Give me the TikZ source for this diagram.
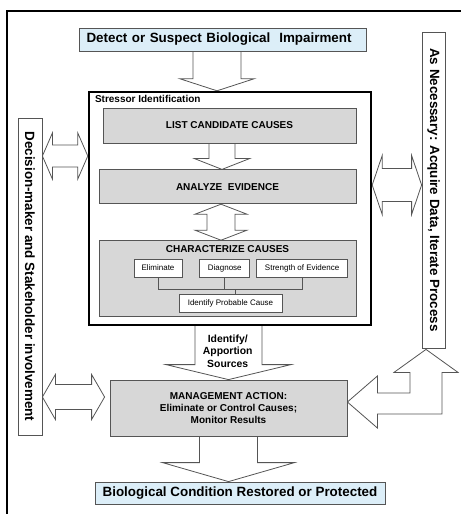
\documentclass[tikz,border=0pt]{standalone}
\usepackage{fontspec}
\setmainfont{Liberation Sans}
\usepackage{xcolor}
\usepackage{tikz}
\usetikzlibrary{positioning,calc,backgrounds}
\definecolor{skyfill}{HTML}{DCEEF8}
\definecolor{boxgray}{HTML}{D7D7D7}
\definecolor{edgegray}{HTML}{555555}

% hollow block arrows, built from two node anchors
\newcommand{\downblock}[5]{% start, tip, shaft half, head half, head length
  \draw[blockarr] let \p1=(#1), \p2=(#2) in
    (\x1-#3pt,\y1) -- (\x1-#3pt,\y2+#5pt) -- (\x1-#4pt,\y2+#5pt) -- (\x1,\y2)
    -- (\x1+#4pt,\y2+#5pt) -- (\x1+#3pt,\y2+#5pt) -- (\x1+#3pt,\y1);}
\newcommand{\updownblock}[5]{% top tip, bottom tip, shaft half, head half, head length
  \draw[blockarr] let \p1=(#1), \p2=(#2) in
    (\x1,\y1) -- (\x1+#4pt,\y1-#5pt) -- (\x1+#3pt,\y1-#5pt) -- (\x1+#3pt,\y2+#5pt)
    -- (\x1+#4pt,\y2+#5pt) -- (\x1,\y2) -- (\x1-#4pt,\y2+#5pt) -- (\x1-#3pt,\y2+#5pt)
    -- (\x1-#3pt,\y1-#5pt) -- (\x1-#4pt,\y1-#5pt) -- cycle;}
\newcommand{\sideblock}[5]{% left tip, right tip, shaft half, head half, head length
  \draw[blockarr] let \p1=(#1), \p2=(#2) in
    (\x1,\y2) -- (\x1+#5pt,\y2+#4pt) -- (\x1+#5pt,\y2+#3pt) -- (\x2-#5pt,\y2+#3pt)
    -- (\x2-#5pt,\y2+#4pt) -- (\x2,\y2) -- (\x2-#5pt,\y2-#4pt) -- (\x2-#5pt,\y2-#3pt)
    -- (\x1+#5pt,\y2-#3pt) -- (\x1+#5pt,\y2-#4pt) -- cycle;}

\begin{document}
\begin{tikzpicture}[
    x=1pt, y=-1pt,
    bluebox/.style={rectangle, draw=edgegray, fill=skyfill, line width=0.8pt, inner sep=0pt,
                    font=\bfseries\fontsize{13.4}{15}\selectfont},
    graybox/.style={rectangle, draw=edgegray, fill=boxgray, line width=0.8pt, inner sep=0pt,
                    align=center, font=\bfseries\fontsize{10}{12}\selectfont},
    pickbox/.style={rectangle, draw=edgegray, fill=white, line width=0.8pt, inner sep=1pt,
                    minimum height=18pt, font=\fontsize{8}{9}\selectfont},
    sidebar/.style={rectangle, draw=edgegray, fill=white, line width=0.8pt, inner sep=0pt,
                    rotate=-90, font=\bfseries\fontsize{13.4}{15}\selectfont},
    sibox/.style={rectangle, draw=black, line width=2.4pt},
    blockarr/.style={draw=edgegray, fill=white, line width=0.8pt, line join=miter},
    link/.style={draw=edgegray, line width=0.8pt}
]
\useasboundingbox (0,0) rectangle (461,514);
\draw[line width=2.4pt] (7,514) -- (7,11) -- (461,11);

\node[bluebox, text width=273pt, inner xsep=7pt, align=left, minimum height=23pt] (detect) at (223,39.5)
  {Detect or Suspect Biological\ \ Impairment};

% stressor identification
\node[sibox, minimum width=282pt, minimum height=233pt] (si) at (230,208.5) {};
\node[anchor=north west, inner sep=0pt, font=\bfseries\fontsize{10}{12}\selectfont] (sititle)
  at ($(si.north west)+(7,4.5)$) {Stressor Identification};
\node[graybox, minimum width=253pt, minimum height=35pt] (list) at (229.5,125.5) {LIST CANDIDATE CAUSES};
\node[graybox, minimum width=257pt, minimum height=34pt, below=26pt of list.south east, anchor=north east]
  (analyze) {ANALYZE\ \ EVIDENCE};
\node[graybox, minimum width=257pt, minimum height=76pt, below=36pt of analyze] (charac) {};
\node[anchor=north, inner sep=0pt, font=\bfseries\fontsize{10}{12}\selectfont] (chartitle)
  at ($(charac.north)+(0,5)$) {CHARACTERIZE CAUSES};
\node[pickbox, minimum width=48pt] (elim) at (158,268) {Eliminate};
\node[pickbox, minimum width=50pt, right=17pt of elim] (diag) {Diagnose};
\node[pickbox, minimum width=91pt, right=6pt of diag] (strength) {Strength of Evidence};
\node[pickbox, minimum width=103pt] (probable) at (230.5,303) {Identify Probable Cause};
\coordinate (bus) at ($(probable.north)+(5,-4)$);
\draw[link] (elim.south) |- (bus) -| (strength.south);
\draw[link] (diag.south) -- (diag.south |- bus);
\draw[link] (bus) -- (bus |- probable.north);

\node[graybox, minimum width=237pt, minimum height=56pt] (mgmt) at (228.5,408)
  {MANAGEMENT ACTION:\\Eliminate or Control Causes;\\Monitor Results};
\node[bluebox, minimum width=290pt, minimum height=22pt] (restored) at (240,493)
  {Biological Condition Restored or Protected};

\node[sidebar, minimum width=317pt, minimum height=24pt] (people) at (30,276.5)
  {Decision-maker and Stakeholder involvement};
\node[sidebar, minimum width=316pt, minimum height=23pt] (iterate) at (433.5,190)
  {As Necessary: Acquire Data, Iterate Process};

\node[align=center, inner sep=0pt, font=\bfseries\fontsize{10.4}{12.4}\selectfont] (apportion)
  at ($(si.south)!0.5!(mgmt.north)+(-1.5,-2)$) {Identify/\\Apportion\\Sources};

\begin{scope}[on background layer]
\downblock{$(detect.south)+(-6,0)$}{si.north}{24}{37}{12}
\downblock{$(list.south)+(-7.5,0)$}{analyze.north}{13}{28}{11}
\updownblock{$(analyze.south)+(-6.5,0)$}{charac.north}{14}{26}{10}
\downblock{$(si.south)+(-1.5,0)$}{mgmt.north}{33.5}{62.5}{15}
\downblock{mgmt.south}{restored.north}{29}{66}{19}
\sideblock{people.north}{$(si.west)+(0,-52.5)$}{11}{23}{10}
\sideblock{people.north}{$(mgmt.west)+(-5,-11)$}{12.5}{22.5}{13}
\sideblock{si.east}{$(iterate.south)+(0,-5)$}{16.5}{29.5}{10}
% bent two-way arrow from management action up to the iterate bar
\draw[blockarr] let \p1=($(mgmt.east)+(0,-6)$), \p2=($(iterate.east)+(-7.5,1)$) in
  (\x1,\y1) -- (\x1+30pt,\y1+26pt) -- (\x1+30pt,\y1+9pt) -- (\x2-16pt,\y1+9pt)
  -- (\x2-16pt,\y2-23pt) -- (\x2-32pt,\y2-23pt) -- (\x2,\y2) -- (\x2+32pt,\y2-23pt)
  -- (\x2+16pt,\y2-23pt) -- (\x2+16pt,\y1-12pt) -- (\x1+30pt,\y1-12pt)
  -- (\x1+30pt,\y1-26pt) -- cycle;
\end{scope}
\end{tikzpicture}
\end{document}
